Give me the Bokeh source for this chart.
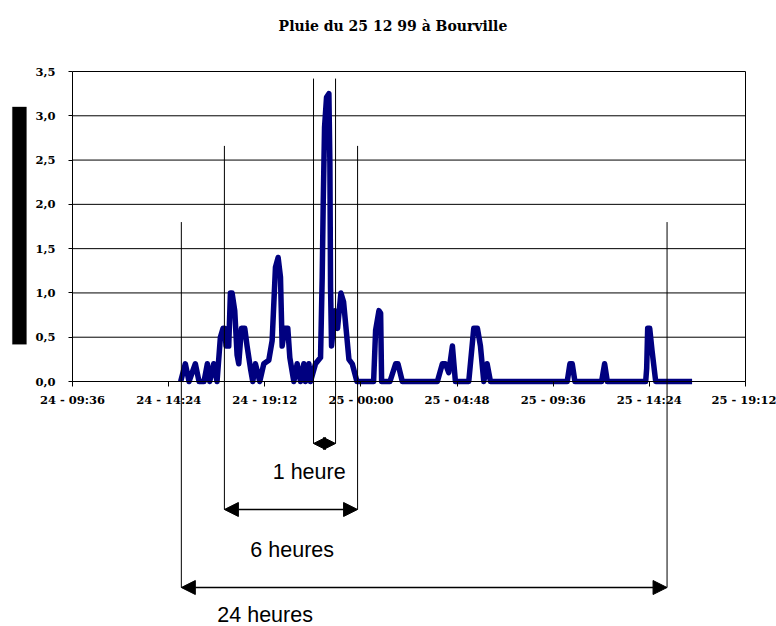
import pandas as pd
from bokeh.plotting import figure
from bokeh.models import Range1d, FixedTicker, Arrow, NormalHead, Label, BoxAnnotation
from bokeh.embed import file_html
from bokeh.resources import INLINE

# --- data : rain (mm), date "day hh:mm" in December 1999
temps = [
    "24 15:00", "24 15:14", "24 15:25", "24 15:44", "24 15:55", "24 16:10", "24 16:20",
    "24 16:27", "24 16:39", "24 16:49", "24 16:59", "24 17:07", "24 17:12", "24 17:16",
    "24 17:24", "24 17:29", "24 17:34", "24 17:42", "24 17:49", "24 17:54", "24 18:02",
    "24 18:12", "24 18:19", "24 18:29", "24 18:36", "24 18:44", "24 18:57", "24 19:09",
    "24 19:24", "24 19:34", "24 19:44", "24 19:52", "24 19:59", "24 20:04", "24 20:12",
    "24 20:21", "24 20:27", "24 20:39", "24 20:49", "24 20:59", "24 21:09", "24 21:14",
    "24 21:24", "24 21:29", "24 21:44", "24 21:59", "24 22:04", "24 22:07", "24 22:11",
    "24 22:17", "24 22:24", "24 22:27", "24 22:29", "24 22:32", "24 22:42", "24 22:50",
    "24 23:00", "24 23:08", "24 23:24", "24 23:34", "24 23:48", "25 00:38", "25 00:44",
    "25 00:54", "25 00:59", "25 01:02", "25 01:27", "25 01:44", "25 01:51", "25 02:04",
    "25 03:49", "25 04:04", "25 04:13", "25 04:23", "25 04:34", "25 04:43", "25 05:23",
    "25 05:38", "25 05:49", "25 05:58", "25 06:08", "25 06:18", "25 06:28", "25 10:18",
    "25 10:26", "25 10:33", "25 10:41", "25 12:01", "25 12:10", "25 12:18", "25 14:13",
    "25 14:16", "25 14:19", "25 14:25", "25 14:32", "25 14:43", "25 16:32",
]
pluie = [
    0.0, 0.2, 0.0, 0.2, 0.0, 0.0, 0.2,
    0.0, 0.2, 0.0, 0.5, 0.6, 0.6, 0.4,
    0.4, 1.0, 1.0, 0.8, 0.3, 0.2, 0.6,
    0.6, 0.4, 0.15, 0.0, 0.2, 0.0, 0.2,
    0.24, 0.46, 1.29, 1.4, 1.18, 0.4, 0.6,
    0.6, 0.27, 0.0, 0.2, 0.0, 0.2, 0.0,
    0.2, 0.0, 0.2, 0.27, 1.18, 2.0, 2.87,
    3.21, 3.25, 2.46, 1.06, 0.4, 0.8, 0.6,
    1.0, 0.9, 0.25, 0.2, 0.0, 0.0, 0.58,
    0.8, 0.77, 0.0, 0.0, 0.2, 0.2, 0.0,
    0.0, 0.2, 0.2, 0.1, 0.4, 0.0, 0.0,
    0.6, 0.6, 0.4, 0.0, 0.2, 0.0, 0.0,
    0.2, 0.2, 0.0, 0.0, 0.2, 0.0, 0.0,
    0.15, 0.6, 0.6, 0.35, 0.0, 0.0,
]

x_ticks = ["24 09:36", "24 14:24", "24 19:12", "25 00:00", "25 04:48", "25 09:36", "25 14:24", "25 19:12"]
x_tick_labels = ["24 - 09:36", "24 - 14:24", "24 - 19:12", "25 - 00:00",
                 "25 - 04:48", "25 - 09:36", "25 - 14:24", "25 - 19:12"]
y_ticks = [0, 0.5, 1, 1.5, 2, 2.5, 3, 3.5]
y_tick_labels = ["0,0", "0,5", "1,0", "1,5", "2,0", "2,5", "3,0", "3,5"]

titre = "Pluie du 25 12 99 à Bourville"

# duration annotations
ann_labels = ["1 heure", "6 heures", "24 heures"]
ann_start = ["24 21:38", "24 17:11", "24 15:02"]
ann_end = ["24 22:44", "24 23:50", "25 15:17"]
ann_top = [3.42, 2.66, 1.80]
ann_arrow_y = [-0.70, -1.445, -2.326]
ann_text_x = ["24 21:25", "24 20:34", "24 19:13"]
ann_text_y = [-1.027, -1.908, -2.635]


def ms(s):
    return int(pd.Timestamp("1999-12-" + s).value // 10**6)


t = pd.to_datetime(["1999-12-" + s for s in temps])

# --- layout: the frame fills the whole canvas, the axes sit at fixed data locations
W, H = 776, 626
plot_left, plot_right, plot_top, plot_bottom = 72, 745, 71, 381
x0, x1 = ms(x_ticks[0]), ms(x_ticks[-1])
y0, y1 = y_ticks[0], y_ticks[-1]
kx = (x1 - x0) / (plot_right - plot_left)
ky = (y1 - y0) / (plot_bottom - plot_top)
x_range = Range1d(x0 - plot_left * kx, x1 + (W - plot_right) * kx)
y_range = Range1d(y0 - (H - plot_bottom) * ky, y1 + plot_top * ky)

p = figure(width=W, height=H, x_axis_type="datetime", x_range=x_range, y_range=y_range,
           output_backend="svg", toolbar_location=None, min_border=0)
p.background_fill_color = "white"
p.border_fill_color = "white"
p.outline_line_color = None
p.xgrid.grid_line_color = None
p.ygrid.grid_line_color = None

# horizontal grid lines and right border of the plot area
n = len(y_ticks)
p.segment(x0=[x0] * n, x1=[x1] * n, y0=y_ticks, y1=y_ticks, line_color="black", line_width=1)
p.segment(x0=[x1], x1=[x1], y0=[y0], y1=[y1], line_color="black", line_width=1)

p.line(t, pluie, line_color="#000080", line_width=5.5, line_join="round")

# axes
tick_font = "DejaVu Serif"
xt = [ms(s) for s in x_ticks]
p.xaxis.ticker = FixedTicker(ticks=xt)
p.xaxis.major_label_overrides = {v: lab for v, lab in zip(xt, x_tick_labels)}
p.xaxis.fixed_location = y0
p.xaxis.bounds = (x0, x1)
p.yaxis.ticker = FixedTicker(ticks=y_ticks)
p.yaxis.major_label_overrides = {v: lab for v, lab in zip(y_ticks, y_tick_labels)}
p.yaxis.fixed_location = x0
p.yaxis.bounds = (y0, y1)
for ax in (p.xaxis[0], p.yaxis[0]):
    ax.axis_line_color = "black"
    ax.major_tick_line_color = "black"
    ax.minor_tick_line_color = None
    ax.major_tick_in = 0
    ax.major_label_text_font = tick_font
    ax.major_label_text_font_style = "bold"
    ax.major_label_text_font_size = "11.5px"
    ax.major_label_text_color = "black"
p.xaxis.major_tick_out = 5
p.xaxis.major_label_standoff = 6
p.yaxis.major_tick_out = 4
p.yaxis.major_label_standoff = 13

# title
p.add_layout(Label(x=ms("25 01:36"), y=4.019, text=titre, text_align="center",
                   text_baseline="alphabetic", text_font=tick_font, text_font_style="bold",
                   text_font_size="14px", text_color="black"))

# black block at the left (axis title rendered as a black box)
p.add_layout(BoxAnnotation(left=ms("24 06:36"), right=ms("24 07:18"), bottom=0.42, top=3.10,
                           fill_color="black", fill_alpha=1, line_color="black"))

# duration markers
head_sizes = [12, 14, 14]
for lab, s0, s1, top, ay, tx, ty, hs in zip(ann_labels, ann_start, ann_end, ann_top,
                                           ann_arrow_y, ann_text_x, ann_text_y, head_sizes):
    for s in (s0, s1):
        p.add_layout(Arrow(x_start=ms(s), y_start=top, x_end=ms(s), y_end=ay,
                           start=None, end=None, line_color="black", line_width=1))
    p.add_layout(Arrow(x_start=ms(s0), y_start=ay, x_end=ms(s1), y_end=ay,
                       start=NormalHead(size=hs, fill_color="black", line_color="black"),
                       end=NormalHead(size=hs, fill_color="black", line_color="black"),
                       line_color="black", line_width=1.5))
    p.add_layout(Label(x=ms(tx), y=ty, text=lab, text_align="center", text_baseline="alphabetic",
                       text_font="Liberation Sans", text_font_size="21.5px", text_color="black"))

open("out.html", "w").write(file_html(p, INLINE))
